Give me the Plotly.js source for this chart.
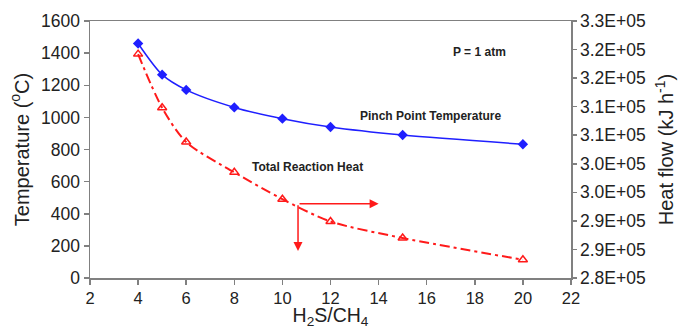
<!DOCTYPE html>
<html>
<head>
<meta charset="utf-8">
<script src="https://cdn.plot.ly/plotly-3.0.1.min.js"></script>
<style>html,body{margin:0;padding:0;background:#fff;}#chart{width:682px;height:329px;}</style>
</head>
<body>
<div id="chart"></div>
<script>
const ratio = [4, 5, 6, 8, 10, 12, 15, 20];
const pinchTemp = [1460, 1266, 1171, 1062, 992, 940, 890, 833];
const reactionHeat = [319200, 309800, 303800, 298500, 293800, 289900, 287000, 283200];
const xTicks = [2, 4, 6, 8, 10, 12, 14, 16, 18, 20, 22];
const leftTicks = [0, 200, 400, 600, 800, 1000, 1200, 1400, 1600];
const rightTickVals = [280000, 285000, 290000, 295000, 300000, 305000, 310000, 315000, 320000, 325000];
const rightTickText = ["2.8E+05", "2.9E+05", "2.9E+05", "3.0E+05", "3.0E+05", "3.1E+05", "3.1E+05", "3.2E+05", "3.2E+05", "3.3E+05"];

const FONT = "Liberation Sans, Arial, sans-serif";
const AX = "#808080";
const TXT = "#222222";

const traces = [
  {
    x: ratio, y: pinchTemp, type: "scatter", mode: "lines+markers",
    line: {color: "#1f1fff", width: 1.5, shape: "spline", smoothing: 0.8},
    marker: {symbol: "diamond", size: 8, color: "#1f1fff"},
    xaxis: "x", yaxis: "y", showlegend: false
  },
  {
    x: ratio, y: reactionHeat, type: "scatter", mode: "lines+markers",
    line: {color: "#ff1a1a", width: 2, dash: "10px,4px,3px,4px", shape: "spline", smoothing: 0.8},
    marker: {symbol: "triangle-up-open", size: 8, color: "#ff1a1a", line: {width: 1.5, color: "#ff1a1a"}},
    xaxis: "x", yaxis: "y2", showlegend: false
  }
];

const layout = {
  width: 682, height: 329,
  margin: {l: 90, r: 111, t: 21, b: 51},
  paper_bgcolor: "#fff", plot_bgcolor: "#fff",
  font: {family: FONT, color: TXT, size: 17},
  xaxis: {
    range: [2, 22], tickvals: xTicks, ticks: "outside", ticklen: 5, tickcolor: AX, tickwidth: 1.5,
    showline: true, linecolor: AX, linewidth: 1.5, mirror: true, showgrid: false, zeroline: false,
    tickfont: {size: 16.5, family: FONT, color: TXT},
    title: {text: "H<sub>2</sub>S/CH<sub>4</sub>", font: {size: 19.5, family: FONT, color: TXT}, standoff: 7}
  },
  yaxis: {
    range: [0, 1600], tickvals: leftTicks, ticks: "outside", ticklen: 5, tickcolor: AX, tickwidth: 1.5,
    showline: true, linecolor: AX, linewidth: 1.5, showgrid: false, zeroline: false,
    tickfont: {size: 17.5, family: FONT, color: TXT},
    title: {text: "Temperature (<sup>o</sup>C)", font: {size: 20, family: FONT, color: TXT}, standoff: 6}
  },
  yaxis2: {
    range: [280000, 325000], overlaying: "y", side: "right",
    tickvals: rightTickVals, ticktext: rightTickText, ticks: "outside", ticklen: 4, tickcolor: AX, tickwidth: 1.5,
    showline: true, linecolor: AX, linewidth: 1.5, showgrid: false, zeroline: false,
    tickfont: {size: 17.5, family: FONT, color: TXT},
    title: {text: "Heat flow (kJ h<sup>-1</sup>)", font: {size: 20, family: FONT, color: TXT}, standoff: 14}
  },
  yaxis3: {
    range: [280000, 325000], overlaying: "y", side: "right", anchor: "x",
    tickvals: rightTickVals, ticks: "inside", ticklen: 4, tickcolor: AX, tickwidth: 1.5,
    showticklabels: false, showline: false, showgrid: false, zeroline: false
  },
  annotations: [
    {x: 18.2, y: 1410, xref: "x", yref: "y", text: "<b>P = 1 atm</b>", showarrow: false, font: {size: 12, family: FONT, color: TXT}},
    {x: 16.14, y: 1011, xref: "x", yref: "y", text: "<b>Pinch Point Temperature</b>", showarrow: false, font: {size: 12, family: FONT, color: TXT}},
    {x: 11.06, y: 694, xref: "x", yref: "y", text: "<b>Total Reaction Heat</b>", showarrow: false, font: {size: 12, family: FONT, color: TXT}},
    {x: 14, y: 462, ax: 10.65, ay: 462, xref: "x", yref: "y", axref: "x", ayref: "y", text: "", showarrow: true,
     arrowhead: 2, arrowsize: 1.2, arrowwidth: 1.5, arrowcolor: "#ff1a1a"},
    {x: 10.65, y: 168, ax: 10.65, ay: 462, xref: "x", yref: "y", axref: "x", ayref: "y", text: "", showarrow: true,
     arrowhead: 2, arrowsize: 1.2, arrowwidth: 1.5, arrowcolor: "#ff1a1a"}
  ]
};

Plotly.newPlot("chart", traces, layout, {displayModeBar: false, staticPlot: true});
</script>
</body>
</html>
